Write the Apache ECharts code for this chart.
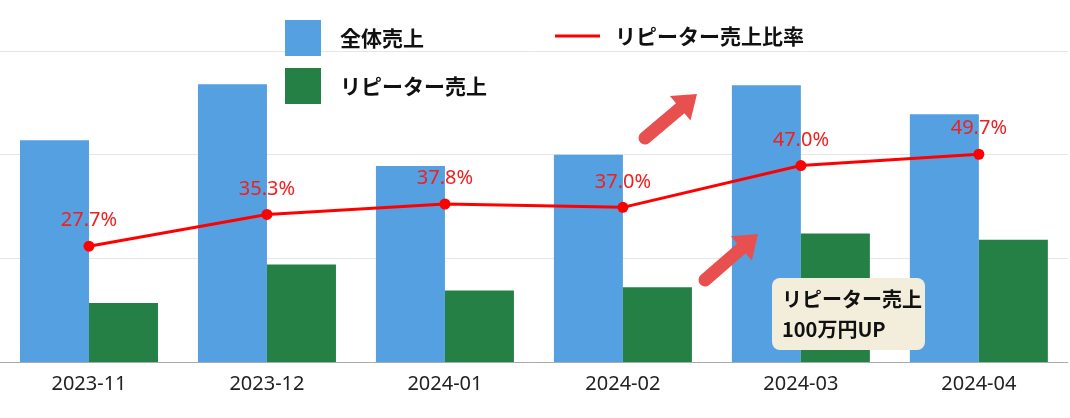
<!DOCTYPE html><html><head><meta charset="utf-8"><script src="https://cdn.jsdelivr.net/npm/echarts@6/dist/echarts.min.js"></script></head><body style="margin:0"><div id="c" style="width:1070px;height:418px"></div><script>
const categories=['2023-11','2023-12','2024-01','2024-02','2024-03','2024-04'];
const totalSales=[2.14,2.68,1.89,2.0,2.67,2.39];
const repeatSales=[0.57,0.94,0.69,0.72,1.24,1.18];
const repeatRatio=[27.7,35.3,37.8,37.0,47.0,49.7];
const c=echarts.init(document.getElementById('c'));
const F='"Noto Sans CJK JP","Noto Sans",sans-serif';
const N='"Noto Sans",sans-serif';
function arrow(x1,y1,x2,y2){
 const a=Math.atan2(y2-y1,x2-x1),L=22,W=16;
 const bx=x2-L*Math.cos(a),by=y2-L*Math.sin(a);
 return [{type:'line',z:100,shape:{x1:x1,y1:y1,x2:bx,y2:by},style:{stroke:'#e85050',lineWidth:13,lineCap:'round'}},
 {type:'polygon',z:100,shape:{points:[[x2,y2],[bx+W*Math.sin(a),by-W*Math.cos(a)],[bx-W*Math.sin(a),by+W*Math.cos(a)]]},style:{fill:'#e85050'}}];
}
c.setOption({
 animation:false,
 grid:{left:'-0.95%',width:1078,top:51,bottom:56},
 xAxis:{type:'category',data:categories,axisTick:{show:false},axisLine:{lineStyle:{color:'#aaa'}},axisLabel:{fontSize:20,color:'#222',fontFamily:N,margin:12}},
 yAxis:[{type:'value',min:0,max:3,interval:1,axisLabel:{show:false},splitLine:{lineStyle:{color:'#e6e6e6'}}},
 {type:'value',min:0,max:74.4,show:false,splitLine:{show:false}}],
 series:[
 {type:'bar',data:totalSales,barWidth:69,barGap:'0%',itemStyle:{color:'#55a0e0'}},
 {type:'bar',data:repeatSales,barWidth:69,itemStyle:{color:'#248045'}},
 {type:'line',yAxisIndex:1,data:repeatRatio,symbol:'circle',symbolSize:11,lineStyle:{color:'#f00',width:3},itemStyle:{color:'#f00'},
  label:{show:true,position:'top',distance:10,formatter:p=>p.value.toFixed(1)+'%',color:'#f02020',fontSize:20,fontFamily:N}}
 ],
 graphic:[
 {type:'rect',z:100,shape:{x:285,y:20,width:36,height:36},style:{fill:'#55a0e0'}},
 {type:'text',z:100,x:340,y:38,style:{text:'全体売上',fontSize:21,fontWeight:'bold',fontFamily:F,fill:'#111',verticalAlign:'middle'}},
 {type:'rect',z:100,shape:{x:285,y:68,width:36,height:36},style:{fill:'#248045'}},
 {type:'text',z:100,x:340,y:86,style:{text:'リピーター売上',fontSize:21,fontWeight:'bold',fontFamily:F,fill:'#111',verticalAlign:'middle'}},
 {type:'line',z:100,shape:{x1:555,y1:36,x2:600,y2:36},style:{stroke:'#f00',lineWidth:3}},
 {type:'text',z:100,x:615,y:36,style:{text:'リピーター売上比率',fontSize:21,fontWeight:'bold',fontFamily:F,fill:'#111',verticalAlign:'middle'}},
 ...arrow(645,138,697,94),...arrow(705,280,758,234),
 {type:'rect',z:100,shape:{x:772,y:278,width:153,height:72,r:8},style:{fill:'#f3eedb'}},
 {type:'text',z:101,x:782,y:314,style:{text:'リピーター売上\n100万円UP',fontSize:20,lineHeight:30,fontWeight:'bold',fontFamily:F,fill:'#111',verticalAlign:'middle'}}
 ]
});
</script></body></html>
